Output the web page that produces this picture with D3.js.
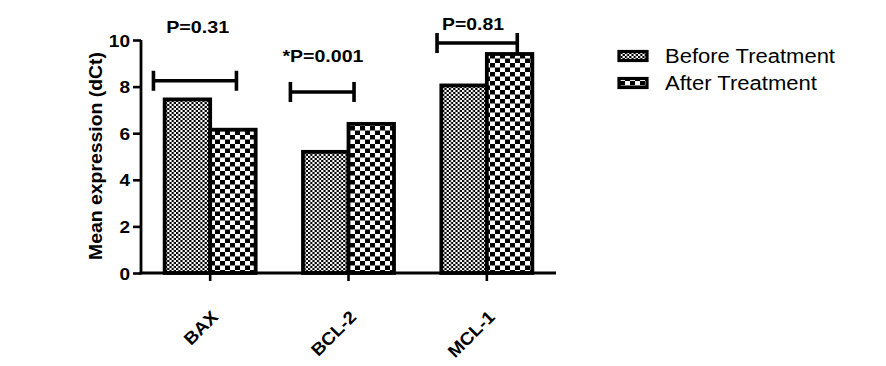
<!DOCTYPE html>
<html><head><meta charset="utf-8">
<script src="https://cdn.jsdelivr.net/npm/d3@7"></script>
<style>
body{margin:0;background:#fff;}
text{font-family:"Liberation Sans",Arial,sans-serif;}
</style></head>
<body><svg id="c" width="886" height="366"></svg>
<script>
const categories = ["BAX","BCL-2","MCL-1"];
const seriesNames = ["Before Treatment","After Treatment"];
const beforeValues = [7.45, 5.2, 8.05];
const afterValues = [6.15, 6.4, 9.4];
const yTicks = [0,2,4,6,8,10];
const pLabels = ["P=0.31","*P=0.001","P=0.81"];
const pLabelY = [10.3, 9.06, 10.43];
const pLabelOffset = [-0.09, -0.185, -0.10];
const bracketY = [8.25, 7.77, 9.87];
const bracketFrom = [-0.41, -0.42, -0.36];
const bracketTo = [0.19, 0.04, 0.22];

const svg = d3.select("#c");
function stretchTo(sel, w){ sel.attr("textLength", w).attr("lengthAdjust","spacingAndGlyphs"); }
function stretch(sel, f){ sel.each(function(){ const w=this.getComputedTextLength(); d3.select(this).attr("textLength", w*f).attr("lengthAdjust","spacingAndGlyphs"); }); }

const defs = svg.append("defs");
const p1 = defs.append("pattern").attr("id","pBefore").attr("patternUnits","userSpaceOnUse").attr("width",4.4).attr("height",4);
p1.append("rect").attr("width",4.4).attr("height",4).attr("fill","#fff");
p1.append("rect").attr("width",2.2).attr("height",2).attr("fill","#000");
p1.append("rect").attr("x",2.2).attr("y",2).attr("width",2.2).attr("height",2).attr("fill","#000");
const p2 = defs.append("pattern").attr("id","pAfter").attr("patternUnits","userSpaceOnUse").attr("width",10).attr("height",9);
p2.append("rect").attr("width",10).attr("height",9).attr("fill","#fff");
p2.append("rect").attr("width",5).attr("height",4.5).attr("fill","#000");
p2.append("rect").attr("x",5).attr("y",4.5).attr("width",5).attr("height",4.5).attr("fill","#000");
const fills = ["url(#pBefore)","url(#pAfter)"];

const x = d3.scaleBand().domain(categories).range([141,556]).padding(0);
const y = d3.scaleLinear().domain([0,10]).range([273,40]);
const x1 = d3.scaleBand().domain([0,1]).range([-45.5,45.5]).padding(0);
const step = x.step();
const cx = c => x(c) + x.bandwidth()/2;

// bars
const data = categories.map((c,i)=>({c, v:[beforeValues[i], afterValues[i]]}));
const g = svg.append("g");
data.forEach(d=>{
  [0,1].forEach(s=>{
    g.append("rect")
      .attr("x", cx(d.c)+x1(s))
      .attr("y", y(d.v[s]))
      .attr("width", x1.bandwidth())
      .attr("height", y(0)-y(d.v[s]))
      .attr("fill", fills[s]).attr("stroke","#000").attr("stroke-width",3.8);
  });
});

// brackets
const pW = [63, 81, 62];
categories.forEach((c,i)=>{
  const xa = cx(c)+bracketFrom[i]*step, xb = cx(c)+bracketTo[i]*step, yy = y(bracketY[i]);
  const bg = svg.append("g").attr("stroke","#000").attr("stroke-width",3.6);
  bg.append("line").attr("x1",xa).attr("x2",xb).attr("y1",yy).attr("y2",yy);
  bg.append("line").attr("x1",xa).attr("x2",xa).attr("y1",yy-10).attr("y2",yy+10);
  bg.append("line").attr("x1",xb).attr("x2",xb).attr("y1",yy-10).attr("y2",yy+10);
  const t = svg.append("text").attr("x", cx(c)+pLabelOffset[i]*step).attr("y", y(pLabelY[i]))
    .attr("text-anchor","middle").attr("font-size",16.5).attr("font-weight","bold").text(pLabels[i]);
  stretchTo(t, pW[i]);
});

// axes
const ya = svg.append("g").attr("transform","translate(141,0)")
  .call(d3.axisLeft(y).tickValues(yTicks).tickSize(8).tickPadding(3));
ya.select(".domain").attr("stroke-width",2.8).attr("d","M0,"+y(10)+"V"+(y(0)+1.4));
ya.selectAll(".tick line").attr("stroke-width",2.6);
ya.selectAll(".tick text").attr("font-size",17).attr("font-weight","bold").attr("font-family","Liberation Sans, Arial").attr("fill","#000").attr("dy","0.36em");
stretch(ya.selectAll(".tick text"), 1.12);

const xa = svg.append("g").attr("transform","translate(0,"+y(0)+")")
  .call(d3.axisBottom(x).tickSize(8).tickSizeOuter(0).tickFormat(""));
xa.select(".domain").attr("stroke-width",2.8).attr("d","M"+(x.range()[0]-1.4)+",0H"+x.range()[1]);
xa.selectAll(".tick line").attr("stroke-width",2.6);

categories.forEach(c=>{
  const t = svg.append("text").attr("transform","translate("+(cx(c)+9)+",318) rotate(-45)")
    .attr("text-anchor","end").attr("font-size",17.5).attr("font-weight","bold").text(c);
  stretch(t, 1.08);
});

// y label
const yl = svg.append("text").attr("transform","translate(102,156) rotate(-90)")
  .attr("text-anchor","middle").attr("font-size",19).attr("font-weight","bold").text("Mean expression (dCt)");
stretchTo(yl, 208);

// legend
const legY = [56, 83];
const legW = [170, 152];
seriesNames.forEach((n,i)=>{
  svg.append("rect").attr("x",619).attr("y",legY[i]-4.5).attr("width",28).attr("height",9)
    .attr("fill",fills[i]).attr("stroke","#000").attr("stroke-width",3.2);
  const t = svg.append("text").attr("x",665).attr("y",legY[i]+7).attr("font-size",19.5).text(n);
  stretchTo(t, legW[i]);
});
</script></body></html>
